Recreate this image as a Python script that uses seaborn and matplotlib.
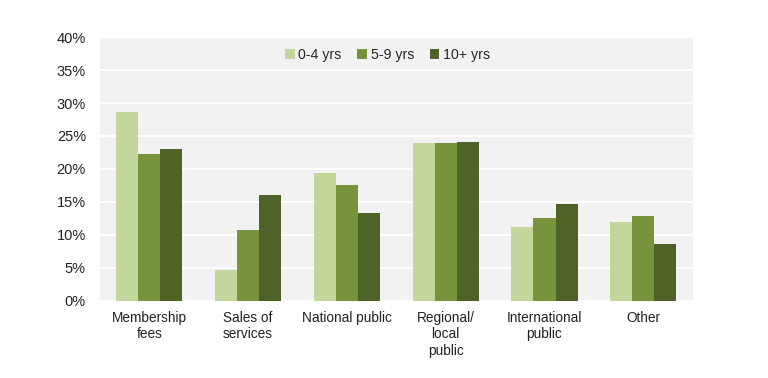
import matplotlib
matplotlib.use("Agg")
import matplotlib.pyplot as plt
import seaborn as sns
import pandas as pd
from matplotlib.ticker import FuncFormatter

categories = ["Membership\nfees", "Sales of\nservices", "National public",
              "Regional/\nlocal\npublic", "International\npublic", "Other"]
groups = ["0-4 yrs", "5-9 yrs", "10+ yrs"]
v_0_4 = [28.6, 4.7, 19.4, 23.9, 11.2, 11.9]
v_5_9 = [22.3, 10.8, 17.5, 23.9, 12.5, 12.8]
v_10p = [23.1, 16.0, 13.3, 24.1, 14.7, 8.6]
colors = ["#c3d69b", "#77933c", "#4f6228"]

rows = []
for g, vals in zip(groups, [v_0_4, v_5_9, v_10p]):
    for c, v in zip(categories, vals):
        rows.append({"cat": c, "grp": g, "val": v})
df = pd.DataFrame(rows)

sns.set_theme(style="white")
plt.rcParams['font.family'] = ['Liberation Sans', 'DejaVu Sans']

fig = plt.figure(figsize=(7.68, 3.78), dpi=100)
ax = fig.add_axes([0.130, 0.204, 0.772, 0.698])
ax.set_facecolor("#f2f2f2")

sns.barplot(data=df, x="cat", y="val", hue="grp", order=categories,
            hue_order=groups, palette=colors, width=0.67, saturation=1,
            ax=ax, zorder=3, edgecolor="none")

ax.set_ylim(0, 40)
ax.set_yticks(range(0, 41, 5))
ax.yaxis.set_major_formatter(FuncFormatter(lambda v, p: f"{int(v)}%"))
ax.grid(axis="y", color="white", linewidth=1.5, zorder=0)
ax.set_axisbelow(True)
for s in ax.spines.values():
    s.set_visible(False)
ax.set_xlabel("")
ax.set_ylabel("")
ax.tick_params(axis="both", length=0, colors="#222222")
ax.tick_params(axis="x", pad=7, labelsize=9.8)
ax.tick_params(axis="y", pad=10, labelsize=10.5)
for lab in ax.get_xticklabels():
    lab.set_linespacing(1.25)

ax.legend(loc="upper center", bbox_to_anchor=(0.485, 1.0), ncol=3, frameon=False,
          fontsize=10.2, handlelength=0.7, handleheight=0.7, handletextpad=0.25,
          columnspacing=1.1, borderaxespad=0.35)

fig.savefig("out.png", dpi=100, facecolor="white")
